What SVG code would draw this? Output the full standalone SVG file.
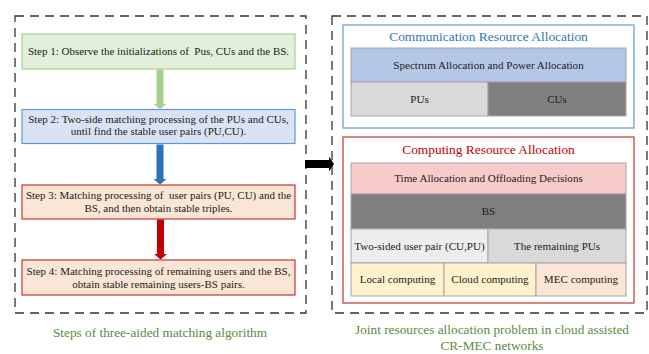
<svg xmlns="http://www.w3.org/2000/svg" width="649" height="354" viewBox="0 0 649 354" font-family="'Liberation Serif', 'Times New Roman', 'DejaVu Serif', serif">
<defs>
<style>
text{font-family:'Liberation Serif','Times New Roman','DejaVu Serif',serif;fill:#222;text-anchor:middle}
.frame{fill:none;stroke:#333;stroke-width:1.3;stroke-dasharray:9 6}
.st{font-size:11px}
.cap{font-size:13.3px;fill:#5b8a3e}
.cell{stroke:#a6a6a6;stroke-width:1}
.ct{font-size:11.1px}
</style>
</defs>
<rect width="649" height="354" fill="#fff"/>
<rect class="frame" x="15" y="16" width="291" height="297"/>
<rect class="frame" x="332" y="16" width="315" height="297"/>

<g id="step1">
<rect x="22" y="34" width="273" height="35" fill="#e2efda" stroke="#a9d18e" stroke-width="1.2"/>
<text class="st" x="158.5" y="55" xml:space="preserve">Step 1: Observe the initializations of  Pus, CUs and the BS.</text>
</g>
<g id="step2">
<rect x="22" y="109.5" width="273" height="34" fill="#dae3f3" stroke="#5b9bd5" stroke-width="1.2"/>
<text class="st" x="158.5" y="123">Step 2: Two-side matching processing of the PUs and CUs,</text>
<text class="st" x="158.5" y="135">until find the stable user pairs (PU,CU).</text>
</g>
<g id="step3">
<rect x="22" y="185" width="273" height="34" fill="#fbe5d6" stroke="#c0392b" stroke-width="1.2"/>
<text class="st" x="158.5" y="199" xml:space="preserve">Step 3: Matching processing of  user pairs (PU, CU) and the</text>
<text class="st" x="158.5" y="211.5">BS, and then obtain stable triples.</text>
</g>
<g id="step4">
<rect x="22" y="260" width="273" height="35" fill="#fbe5d6" stroke="#c0392b" stroke-width="1.2"/>
<text class="st" x="158.5" y="274.5">Step 4: Matching processing of remaining users and the BS,</text>
<text class="st" x="158.5" y="287.5">obtain stable remaining users-BS pairs.</text>
</g>
<text class="cap" x="160" y="337">Steps of three-aided matching algorithm</text>

<g id="connectors">
<path d="M156.5 69.5 H163.5 V104 H166.5 L160 109 L153.5 104 H156.5 Z" fill="#a9d18e"/>
<path d="M156.5 144.5 H163.5 V179 H166.5 L160 184.5 L153.5 179 H156.5 Z" fill="#2e75b6"/>
<path d="M157 219.5 H164 V254 H167 L160.5 259.5 L154 254 H157 Z" fill="#c00000"/>
<path d="M305 160 H329 V156.5 L334 164 L329 171.5 V168 H305 Z" fill="#000"/>
</g>

<g id="comm">
<rect x="343" y="25" width="291" height="103" fill="#fff" stroke="#5b9bd5" stroke-width="1.2"/>
<text x="488.5" y="41" font-size="13.4" style="fill:#2e75b6">Communication Resource Allocation</text>
<g id="spectrum"><rect class="cell" x="351" y="48" width="275" height="34" fill="#b4c7e7"/>
<text class="ct" x="488.5" y="68.5">Spectrum Allocation and Power Allocation</text></g>
<g id="pus"><rect class="cell" x="351" y="82" width="137" height="34" fill="#d9d9d9"/>
<text class="ct" x="419.5" y="102.5">PUs</text></g>
<g id="cus"><rect class="cell" x="488" y="82" width="138" height="34" fill="#7f7f7f"/>
<text class="ct" x="557" y="102.5">CUs</text></g>
</g>

<g id="comp">
<rect x="343" y="137" width="291" height="166" fill="#fff" stroke="#c0392b" stroke-width="1.2"/>
<text x="488.5" y="154" font-size="13.4" style="fill:#c00000">Computing Resource Allocation</text>
<g id="time"><rect class="cell" x="351" y="163" width="275" height="31" fill="#f8cbcb"/>
<text class="ct" x="488.5" y="182">Time Allocation and Offloading Decisions</text></g>
<g id="bs"><rect class="cell" x="351" y="194" width="275" height="35" fill="#7f7f7f"/>
<text class="ct" x="488.5" y="215">BS</text></g>
<g id="pair"><rect class="cell" x="351" y="229" width="137" height="34" fill="#ededed"/>
<text class="ct" x="419.5" y="250">Two-sided user pair (CU,PU)</text></g>
<g id="remaining"><rect class="cell" x="488" y="229" width="138" height="34" fill="#d9d9d9"/>
<text class="ct" x="557" y="250">The remaining PUs</text></g>
<g id="local"><rect class="cell" x="351" y="263" width="93" height="33" fill="#fff2cc"/>
<text class="ct" x="397.5" y="283">Local computing</text></g>
<g id="cloud"><rect class="cell" x="444" y="263" width="92" height="33" fill="#fff2cc"/>
<text class="ct" x="490" y="283">Cloud computing</text></g>
<g id="mec"><rect class="cell" x="536" y="263" width="90" height="33" fill="#fbe5d6"/>
<text class="ct" x="581" y="283">MEC computing</text></g>
</g>
<text class="cap" x="492" y="334">Joint resources allocation problem in cloud assisted</text>
<text class="cap" x="492" y="350">CR-MEC networks</text>
</svg>
